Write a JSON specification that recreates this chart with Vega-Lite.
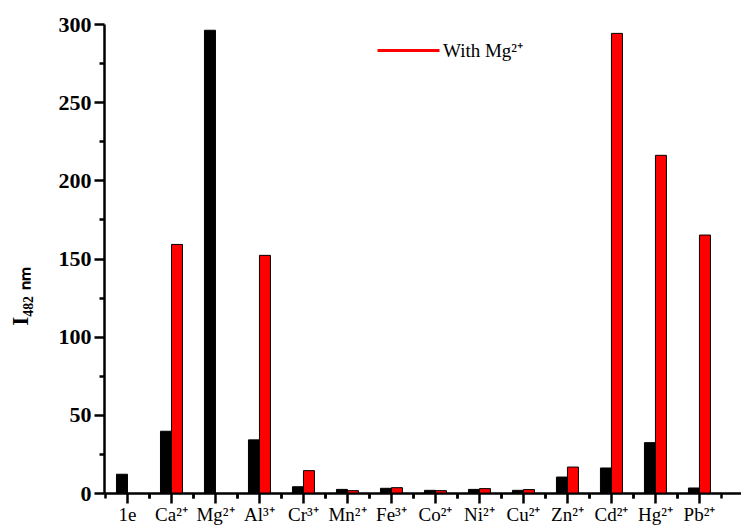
{
  "$schema": "https://vega.github.io/schema/vega-lite/v6.json",
  "width": 637,
  "height": 469,
  "autosize": "none",
  "padding": {"left": 104, "top": 24, "right": 0, "bottom": 32},
  "background": "white",
  "config": {
    "view": {"stroke": null},
    "font": "Liberation Serif",
    "axis": {
      "grid": false,
      "domainColor": "#000000",
      "tickColor": "#000000",
      "labelColor": "#000000",
      "titleColor": "#000000",
      "labelFont": "Liberation Serif",
      "titleFont": "Liberation Serif",
      "domainWidth": 2.5,
      "tickWidth": 2.5,
      "zindex": 1
    }
  },
  "data": {
    "values": [
      {"ion": "1e", "series": "Blank", "value": 12},
      {"ion": "Ca²⁺", "series": "Blank", "value": 39.5},
      {"ion": "Ca²⁺", "series": "With Mg²⁺", "value": 159},
      {"ion": "Mg²⁺", "series": "Blank", "value": 296},
      {"ion": "Al³⁺", "series": "Blank", "value": 34},
      {"ion": "Al³⁺", "series": "With Mg²⁺", "value": 152},
      {"ion": "Cr³⁺", "series": "Blank", "value": 4},
      {"ion": "Cr³⁺", "series": "With Mg²⁺", "value": 14.3},
      {"ion": "Mn²⁺", "series": "Blank", "value": 2.3},
      {"ion": "Mn²⁺", "series": "With Mg²⁺", "value": 1.5},
      {"ion": "Fe³⁺", "series": "Blank", "value": 3},
      {"ion": "Fe³⁺", "series": "With Mg²⁺", "value": 3.4},
      {"ion": "Co²⁺", "series": "Blank", "value": 1.7},
      {"ion": "Co²⁺", "series": "With Mg²⁺", "value": 1.5},
      {"ion": "Ni²⁺", "series": "Blank", "value": 2.3},
      {"ion": "Ni²⁺", "series": "With Mg²⁺", "value": 2.8},
      {"ion": "Cu²⁺", "series": "Blank", "value": 1.7},
      {"ion": "Cu²⁺", "series": "With Mg²⁺", "value": 2.2},
      {"ion": "Zn²⁺", "series": "Blank", "value": 10.2},
      {"ion": "Zn²⁺", "series": "With Mg²⁺", "value": 16.6},
      {"ion": "Cd²⁺", "series": "Blank", "value": 16},
      {"ion": "Cd²⁺", "series": "With Mg²⁺", "value": 294},
      {"ion": "Hg²⁺", "series": "Blank", "value": 32.2},
      {"ion": "Hg²⁺", "series": "With Mg²⁺", "value": 216},
      {"ion": "Pb²⁺", "series": "Blank", "value": 3.2},
      {"ion": "Pb²⁺", "series": "With Mg²⁺", "value": 165}
    ]
  },
  "layer": [
    {
      "mark": {"type": "bar", "stroke": "black", "strokeWidth": 1},
      "encoding": {
        "x": {
          "field": "ion", "type": "nominal", "sort": null,
          "scale": {"paddingInner": 0, "paddingOuter": 0.239, "align": 0.07},
          "axis": {"orient": "bottom", "title": null, "labelAngle": 0, "ticks": false, "domain": false, "labelFontSize": 19, "labelPadding": 12}
        },
        "xOffset": {
          "field": "series", "type": "nominal", "sort": ["Blank", "With Mg²⁺"],
          "scale": {"paddingInner": 0, "paddingOuter": 1}
        },
        "y": {
          "field": "value", "type": "quantitative",
          "scale": {"domain": [0, 300], "nice": false},
          "axis": {
            "orient": "left", "domain": false, "ticks": false,
            "values": [0, 50, 100, 150, 200, 250, 300],
            "labelFontSize": 22, "labelFontWeight": "bold", "labelPadding": 13,
            "title": "I₄₈₂ ₙₘ", "titleFontSize": 23, "titleFontWeight": "bold",
            "titleX": -77, "titleY": 272, "titleAlign": "center", "titleBaseline": "alphabetic", "titleAngle": 270
          }
        },
        "color": {
          "field": "series", "type": "nominal",
          "scale": {"domain": ["Blank", "With Mg²⁺"], "range": ["#000000", "#ff0000"]},
          "legend": {
            "values": ["With Mg²⁺"], "title": null, "orient": "none",
            "legendX": 272, "legendY": -6,
            "symbolType": "stroke", "symbolSize": 3844, "symbolStrokeWidth": 3,
            "symbolStrokeColor": "#ff0000", "symbolFillColor": "#ff0000",
            "labelFontSize": 19, "labelFont": "Liberation Serif", "labelColor": "black",
            "labelOffset": 2, "padding": 0
          }
        }
      }
    },
    {
      "mark": {"type": "tick", "opacity": 0},
      "encoding": {
        "x": {
          "field": "ion", "type": "nominal", "sort": null,
          "axis": {"orient": "bottom", "title": null, "bandPosition": 0.5, "tickSize": 10, "labels": false, "domain": true}
        },
        "y": {
          "field": "value", "type": "quantitative",
          "axis": {"orient": "left", "values": [0, 50, 100, 150, 200, 250, 300], "tickSize": 10, "labels": false, "domain": true, "title": null}
        }
      }
    },
    {
      "mark": {"type": "tick", "opacity": 0},
      "encoding": {
        "x": {
          "field": "ion", "type": "nominal", "sort": null,
          "axis": {"orient": "bottom", "title": null, "bandPosition": 0, "tickSize": 5, "labels": false, "domain": false}
        },
        "y": {
          "field": "value", "type": "quantitative",
          "axis": {"orient": "left", "values": [25, 75, 125, 175, 225, 275], "tickSize": 5, "labels": false, "domain": false, "title": null}
        }
      }
    },
    {
      "mark": {"type": "tick", "opacity": 0},
      "encoding": {
        "x": {
          "field": "ion", "type": "nominal", "sort": null,
          "axis": {"orient": "bottom", "title": null, "bandPosition": 1, "tickSize": 5, "labels": false, "domain": false}
        }
      }
    }
  ],
  "resolve": {"axis": {"x": "independent", "y": "independent"}}
}
